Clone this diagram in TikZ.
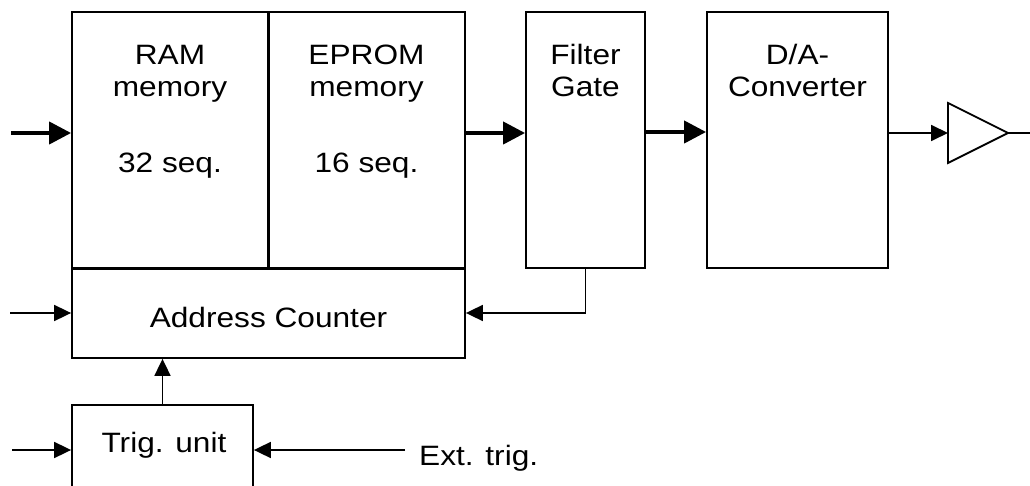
\documentclass[tikz,border=0pt]{standalone}
\usepackage{fontspec}
\setmainfont{Liberation Sans}[FakeStretch=1.13]
\usetikzlibrary{arrows.meta,fit}
\begin{document}
\begin{tikzpicture}[x=1pt,y=-1pt,
  box/.style={draw, line width=1.8pt, inner sep=0pt, line join=miter},
  lbl/.style={font=\fontsize{28}{32}\selectfont, inner sep=0pt, anchor=base},
  heavyarrow/.style={line width=4pt, -{Triangle[length=22pt,width=22pt]}},
  lightarrow/.style={line width=1.8pt, -{Triangle[length=17pt,width=16pt]}}]
\useasboundingbox (0,0) rectangle (1030,486);
\clip (0,0) rectangle (1030,486);

% memory blocks
\node[box, fit={(72,12) (268,268)}] (ram) {};
\node[box, fit={(268,12) (465,268)}] (eprom) {};
\node[box, fit={(72,268) (465,358)}] (addr) {};
\draw[line width=2.8pt] (ram.north east) -- (ram.south east);
\draw[line width=2.8pt] (ram.south west) -- (eprom.south east);

% processing chain
\node[box, fit={(526,12) (645,268)}] (filter) {};
\node[box, fit={(707,12) (888,268)}] (dac) {};
\node[box, fit={(72,405) (253,500)}] (trig) {};

% output amplifier
\coordinate (amp-in) at (948,133);
\coordinate (amp-out) at (1008,133);
\coordinate (out) at (1030,133);
\draw[line width=1.8pt, line join=miter] (948,103) -- (amp-out) -- (948,163) -- cycle;

% labels
\node[lbl] (ram-a) at (170,65) {RAM};
\node[lbl] (ram-b) at (170,97) {memory};
\node[lbl] (ram-c) at (170,173) {32 seq.};
\node[lbl] (ep-a) at (366.5,65) {EPROM};
\node[lbl] (ep-b) at (366.5,97) {memory};
\node[lbl] (ep-c) at (366.5,173) {16 seq.};
\node[lbl] (fg-a) at (585.5,65) {Filter};
\node[lbl] (fg-b) at (585.5,97) {Gate};
\node[lbl] (da-a) at (797.5,65) {D/A-};
\node[lbl] (da-b) at (797.5,97) {Converter};
\node[lbl] (addr-t) at (268.5,327) {Address Counter};
\node[lbl] (trig-t) at (164,452) {Trig. unit};
\node[lbl, anchor=base west] (ext-t) at (419,465) {Ext. trig.};

% signal path
\coordinate (in-data) at (11,133);
\coordinate (in-addr) at (10,313);
\coordinate (in-trig) at (12,450);
\coordinate (ext) at (405,450);
\coordinate (bus1) at (465,133);
\coordinate (bus2) at (645,132);

\draw[heavyarrow] (in-data) -- (in-data -| ram.west);
\draw[heavyarrow] (bus1) -- (bus1 -| filter.west);
\draw[heavyarrow] (bus2) -- (bus2 -| dac.west);
\draw[lightarrow] (amp-in -| dac.east) -- (amp-in);
\draw[line width=1.8pt] (amp-out) -- (out);

% control path
\draw[lightarrow] (filter.south) |- (addr.east);
\draw[lightarrow] (in-addr) -- (addr.west);
\draw[lightarrow] (trig.north) -- (trig.north |- addr.south);
\draw[lightarrow] (in-trig) -- (in-trig -| trig.west);
\draw[lightarrow] (ext) -- (ext -| trig.east);
\end{tikzpicture}
\end{document}
